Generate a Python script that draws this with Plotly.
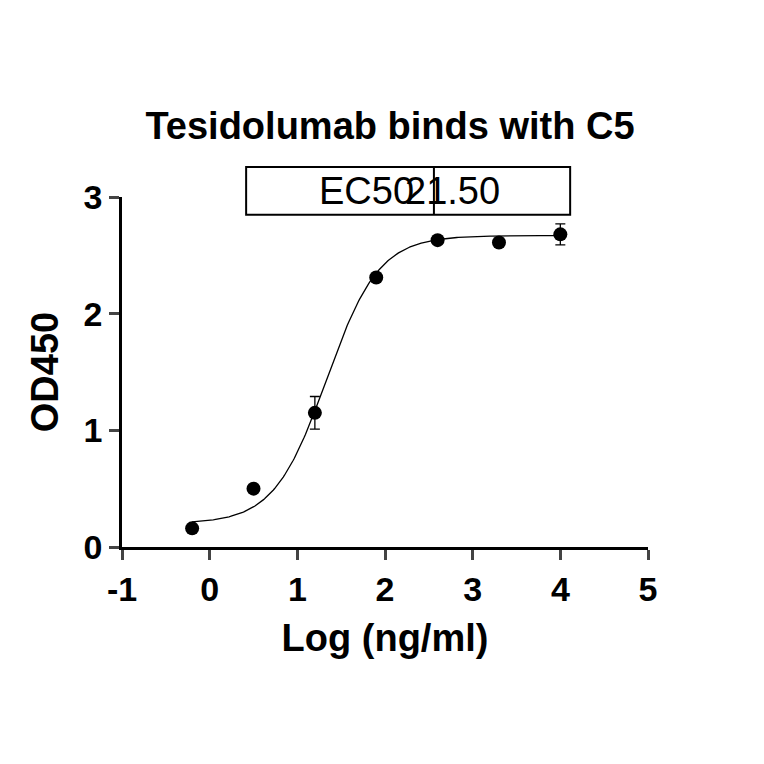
import numpy as np
import plotly.graph_objects as go

log_conc = [-0.2, 0.5, 1.2, 1.9, 2.6, 3.3, 4.0]
od450 = [0.16, 0.50, 1.15, 2.31, 2.63, 2.61, 2.68]
err = [0.0, 0.0, 0.14, 0.0, 0.0, 0.0, 0.09]
x_ticks = [-1, 0, 1, 2, 3, 4, 5]
x_ticklabels = ["-1", "0", "1", "2", "3", "4", "5"]
y_ticks = [0, 1, 2, 3]
# fitted 4PL parameters
bottom, top, logec50, hill = 0.20, 2.67, np.log10(21.50), 1.45
ec50_label = "21.50"

xs = np.linspace(-0.2, 4.0, 300)
ys = bottom + (top - bottom) / (1 + 10 ** ((logec50 - xs) * hill))

fig = go.Figure()
fig.add_trace(go.Scatter(x=xs, y=ys, mode="lines", line=dict(color="black", width=1.3), hoverinfo="skip"))
fig.add_trace(go.Scatter(x=log_conc, y=od450, mode="markers",
                         marker=dict(color="black", size=14),
                         error_y=dict(type="data", array=err, color="black", thickness=1.3, width=5)))
F = "Arial, Liberation Sans, sans-serif"
fig.update_layout(
    width=764, height=764, showlegend=False, plot_bgcolor="white", paper_bgcolor="white",
    margin=dict(l=114, r=124, t=189, b=225),
    title=dict(text="<b>Tesidolumab binds with C5</b>", x=0.5, xanchor="center", y=0.846, yanchor="middle",
               font=dict(family=F, size=38, color="black")),
    font=dict(family=F, color="black"),
)
fig.update_xaxes(range=[-1, 5], tickvals=x_ticks, ticktext=["<b>%s</b>" % t for t in x_ticklabels],
                 showgrid=False, zeroline=False,
                 showline=True, linecolor="black", linewidth=2.5, ticks="outside", ticklen=10, tickwidth=2.5,
                 tickfont=dict(size=34, family=F),
                 title=dict(text="<b>Log (ng/ml)</b>", font=dict(size=38, family=F), standoff=18))
fig.update_yaxes(range=[0, 3], tickvals=y_ticks, ticktext=["<b>%d</b>" % t for t in y_ticks],
                 showgrid=False, zeroline=False,
                 showline=True, linecolor="black", linewidth=2.5, ticks="outside", ticklen=10, tickwidth=2.5,
                 tickfont=dict(size=34, family=F),
                 title=dict(text="<b>OD450</b>", font=dict(size=38, family=F), standoff=14))
fig.add_shape(type="rect", xref="paper", yref="paper", x0=0.236, x1=0.852, y0=0.949, y1=1.086,
              line=dict(color="black", width=2))
fig.add_shape(type="line", xref="paper", yref="paper", x0=0.593, x1=0.593, y0=0.949, y1=1.086,
              line=dict(color="black", width=2))
fig.add_annotation(xref="paper", yref="paper", x=0.465, y=1.0175, yanchor="middle", text="EC50",
                   showarrow=False, font=dict(size=38, family=F))
fig.add_annotation(xref="paper", yref="paper", x=0.722, y=1.0175, yanchor="middle", text=ec50_label,
                   showarrow=False, font=dict(size=38, family=F))
fig.write_html("out.html")
